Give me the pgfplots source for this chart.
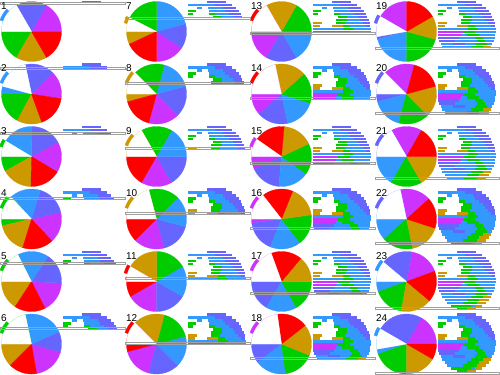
\documentclass[border=0pt]{standalone}
\usepackage{pgfplots}
\pgfplotsset{compat=1.18}
\usepackage{pgfplotstable}
\usepackage{fontspec}
\setmainfont{Liberation Sans}
\definecolor{cPu}{RGB}{204,51,255}
\definecolor{cSb}{RGB}{102,102,255}
\definecolor{cBl}{RGB}{51,153,255}
\definecolor{cGr}{RGB}{0,204,0}
\definecolor{cGo}{RGB}{204,153,0}
\definecolor{cRe}{RGB}{255,0,0}
\definecolor{cLn}{RGB}{160,160,160}

% stripe pattern of the right-hand disc (x from, x to, row centre y), per colour
\pgfplotstableread{
x y
82.4 2
100.6 2
nan nan
90 5
106.8 5
nan nan
98 8
110.7 8
nan nan
100 11
113.5 11
nan nan
104 14
115.7 14
nan nan
108 17
117.4 17
nan nan
110 20
118.7 20
nan nan
113 23
119.6 23
nan nan
116 26
120.2 26
nan nan
63.4 38
84 38
nan nan
64.3 41
80 41
nan nan
78 44
90 44
}\tSb
\pgfplotstableread{
x y
63 5
90 5
nan nan
72.3 8
77 8
nan nan
83 8
98 8
nan nan
84 11
100 11
nan nan
90 14
104 14
nan nan
97 17
108 17
nan nan
97 20
110 20
nan nan
95 23
113 23
nan nan
100 26
116 26
nan nan
62.5 29
93 29
nan nan
103 29
120.5 29
nan nan
100 32
120.5 32
nan nan
86 35
92 35
nan nan
104 35
120.2 35
nan nan
84 38
100 38
nan nan
108 38
119.6 38
nan nan
80 41
102 41
nan nan
110 41
118.7 41
nan nan
65.6 44
78 44
nan nan
90 44
100 44
nan nan
112 44
117.4 44
nan nan
67.3 47
96 47
nan nan
69.5 50
92 50
nan nan
72.3 53
88 53
nan nan
96 56
100 56
}\tBl
\pgfplotstableread{
x y
63 11
71 11
nan nan
63 14
68 14
nan nan
84 14
90 14
nan nan
88 17
97 17
nan nan
86 20
97 20
nan nan
86 23
95 23
nan nan
93 26
100 26
nan nan
93 29
103 29
nan nan
88 32
100 32
nan nan
92 35
104 35
nan nan
100 38
108 38
nan nan
102 41
110 41
nan nan
100 44
112 44
nan nan
96 47
108 47
nan nan
92 50
104 50
nan nan
88 53
102 53
nan nan
76.2 56
96 56
nan nan
82.4 59
92 59
}\tGr
\pgfplotstableread{
x y
63.4 23
72 23
nan nan
63 26
70 26
nan nan
82 26
93 26
nan nan
108 47
115.7 47
nan nan
104 50
113.5 50
nan nan
102 53
110.7 53
nan nan
100 56
106.8 56
nan nan
92 59
100.6 59
}\tGo
\pgfplotstableread{
x y
62.5 32
88 32
nan nan
62.8 35
86 35
}\tPu

\pgfplotsset{
 canvas/.style={scale only axis, width=500bp, height=375bp, xmin=0, xmax=500,
   ymin=0, ymax=375, y dir=reverse, hide axis, clip=false,
   anchor=north west, at={(0,0)}},
 stripe/.style={scale only axis, width=70bp, xmin=55, xmax=125, ymin=-1,
   y dir=reverse, hide axis, clip=true, anchor=north west},
}

\newcommand{\slice}[6]{\addplot[draw=#6, line width=0.3bp, fill=#6, domain=#4:#5, samples=12, variable=\t]
  ({#1+#3*cos(\t)},{#2-#3*sin(\t)}) -- (axis cs:#1,#2) -- cycle;}
% cx cy a0..a5 (purple, slate blue, blue, green, golden, red)
\newcommand{\pie}[8]{%
  \slice{#1}{#2}{30}{#3}{#4}{cPu}%
  \slice{#1}{#2}{30}{#4}{#5}{cSb}%
  \slice{#1}{#2}{30}{#5}{#6}{cBl}%
  \slice{#1}{#2}{30}{#6}{#7}{cGr}%
  \slice{#1}{#2}{30}{#7}{#8}{cGo}%
  \slice{#1}{#2}{30}{#8}{#3+360}{cRe}}
% cx cy | bit: from to colour | white: from to | slices
\newcommand{\panel}[7]{\slice{#1}{#2}{33.5}{#3}{#4}{#5}\def\wA{#6}\def\wB{#7}\panelrest{#1}{#2}}
\newcommand{\panelrest}[8]{\pie{#1}{#2}{#3}{#4}{#5}{#6}{#7}{#8}\slice{#1}{#2}{30}{\wA}{\wB}{white}}
\newcommand{\pline}[4]{\addplot[cLn, line width=0.8bp] coordinates {(#1,#3) (#2,#3) (#2,#4) (#1,#4)} -- cycle;}
\newcommand{\plabel}[3]{\node[anchor=north west, inner sep=0pt, font=\fontsize{10}{10}\selectfont] at (axis cs:#1,#2) {#3};}

\begin{document}
\begin{tikzpicture}
\begin{axis}[canvas]
\panel{31.5}{31.5}{138}{160}{cBl}{120}{180}{0}{60}{120}{180}{240}{300}
\panel{31.5}{94}{138}{160}{cBl}{102}{165}{-9}{45}{102}{180}{242}{290}
\panel{31.5}{156.5}{149}{162}{cGr}{149}{180}{-31}{29}{89}{149}{209}{269}
\panel{31.5}{219}{138}{160}{cGr}{133}{180}{-47}{13}{73}{133}{193}{253}
\panel{31.5}{281.5}{138}{160}{cGr}{117}{180}{-63}{-3}{57}{117}{177}{237}
\panel{31.5}{344}{138}{160}{cGr}{102}{180}{-80}{-16}{24}{102}{165}{225}
\panel{156.5}{31.5}{153}{165}{cGo}{153}{180}{-90}{-33}{15}{90}{153}{205}
\panel{156.5}{94}{138}{160}{cGo}{135}{180}{-105}{-45}{15}{75}{135}{195}
\panel{156.5}{156.5}{138}{160}{cGo}{120}{180}{-120}{-60}{0}{60}{120}{180}
\panel{156.5}{219}{138}{160}{cGo}{105}{180}{-135}{-75}{-15}{45}{105}{165}
\panel{156.5}{281.5}{150}{165}{cRe}{150}{180}{-150}{-90}{-30}{30}{90}{150}
\panel{156.5}{344}{138}{160}{cRe}{135}{180}{-165}{-105}{-45}{15}{75}{135}
\panel{281.5}{31.5}{138}{160}{cRe}{120}{180}{-180}{-120}{-60}{0}{60}{120}
\panel{281.5}{94}{138}{160}{cRe}{102}{180}{-198}{-138}{-78}{-18}{42}{102}
\panel{281.5}{156.5}{145}{162}{cPu}{145}{180}{-215}{-155}{-95}{-35}{25}{85}
\panel{281.5}{219}{138}{160}{cPu}{128}{180}{-232}{-172}{-112}{-52}{8}{68}
\panel{281.5}{281.5}{138}{160}{cPu}{110}{180}{-250}{-180}{-120}{-60}{0}{50}
\panel{281.5}{344}{138}{160}{cPu}{98}{180}{-262}{-202}{-142}{-82}{-22}{38}
\panel{406.5}{31.5}{150}{165}{cSb}{150}{190}{-270}{-210}{-165}{-90}{-15}{30}
\panel{406.5}{94}{138}{160}{cSb}{135}{180}{-285}{-225}{-165}{-105}{-45}{15}
\panel{406.5}{156.5}{138}{160}{cSb}{120}{180}{-300}{-240}{-180}{-120}{-60}{0}
\panel{406.5}{219}{138}{160}{cSb}{102}{180}{-318}{-258}{-198}{-138}{-78}{-18}
\panel{406.5}{281.5}{140}{160}{cBl}{140}{180}{-340}{-280}{-220}{-160}{-100}{-40}
\panel{406.5}{344}{150}{165}{cBl}{150}{190}{0}{60}{150}{200}{270}{330}
\end{axis}

\foreach \X/\Y/\L in {0/0/2, 0/62.5/4.5, 0/125/7, 0/187.5/9.5, 0/250/12, 0/312.5/14.5,
  125/0/17, 125/62.5/19.5, 125/125/22, 125/187.5/24.5, 125/250/27, 125/312.5/29.5,
  250/0/32, 250/62.5/34.5, 250/125/37, 250/187.5/39.5, 250/250/42, 250/312.5/44.5,
  375/0/47, 375/62.5/49.5, 375/125/52, 375/187.5/54.5, 375/250/57, 375/312.5/59.5}{
  \pgfmathsetmacro\H{\L+2}
  \pgfmathsetmacro\Ym{\L+1}
  \pgfmathsetmacro\Ax{\X+55}
  \pgfmathsetmacro\Ay{1-\Y}
  \begin{axis}[stripe, height=\H bp, ymax=\Ym, at={(\Ax bp,\Ay bp)}]
    \addplot[cSb, line width=2.9bp, unbounded coords=jump] table {\tSb};
    \addplot[cBl, line width=2.9bp, unbounded coords=jump] table {\tBl};
    \addplot[cGr, line width=2.9bp, unbounded coords=jump] table {\tGr};
    \addplot[cGo, line width=2.9bp, unbounded coords=jump] table {\tGo};
    \addplot[cPu, line width=2.9bp, unbounded coords=jump] table {\tPu};
  \end{axis}
}

\begin{axis}[canvas]
\pline{0}{125}{2}{4}
\pline{0}{125}{67}{69}
\pline{0}{125}{132}{134}
\pline{0}{125}{197}{199}
\pline{0}{125}{262}{264}
\pline{0}{125}{327}{329}
\pline{125}{250}{17}{19}
\pline{125}{250}{82}{84}
\pline{125}{250}{147}{149}
\pline{125}{250}{212}{214}
\pline{125}{250}{277}{279}
\pline{125}{250}{342}{344}
\pline{250}{375}{32}{34}
\pline{250}{375}{97}{99}
\pline{250}{375}{162}{164}
\pline{250}{375}{227}{229}
\pline{250}{375}{292}{294}
\pline{250}{375}{357}{359}
\pline{375}{499.5}{47}{49}
\pline{375}{499.5}{112}{114}
\pline{375}{499.5}{177}{179}
\pline{375}{499.5}{242}{244}
\pline{375}{499.5}{307}{309}
\pline{375}{499.5}{372}{374}
\plabel{1}{2}{1}\plabel{1}{64.5}{2}\plabel{1}{127}{3}\plabel{1}{189.5}{4}\plabel{1}{252}{5}\plabel{1}{314.5}{6}
\plabel{126}{2}{7}\plabel{126}{64.5}{8}\plabel{126}{127}{9}\plabel{126}{189.5}{10}\plabel{126}{252}{11}\plabel{126}{314.5}{12}
\plabel{251}{2}{13}\plabel{251}{64.5}{14}\plabel{251}{127}{15}\plabel{251}{189.5}{16}\plabel{251}{252}{17}\plabel{251}{314.5}{18}
\plabel{376}{2}{19}\plabel{376}{64.5}{20}\plabel{376}{127}{21}\plabel{376}{189.5}{22}\plabel{376}{252}{23}\plabel{376}{314.5}{24}
\end{axis}
\pgfresetboundingbox
\useasboundingbox (0,0) rectangle (500bp,-375bp);
\end{tikzpicture}
\end{document}
